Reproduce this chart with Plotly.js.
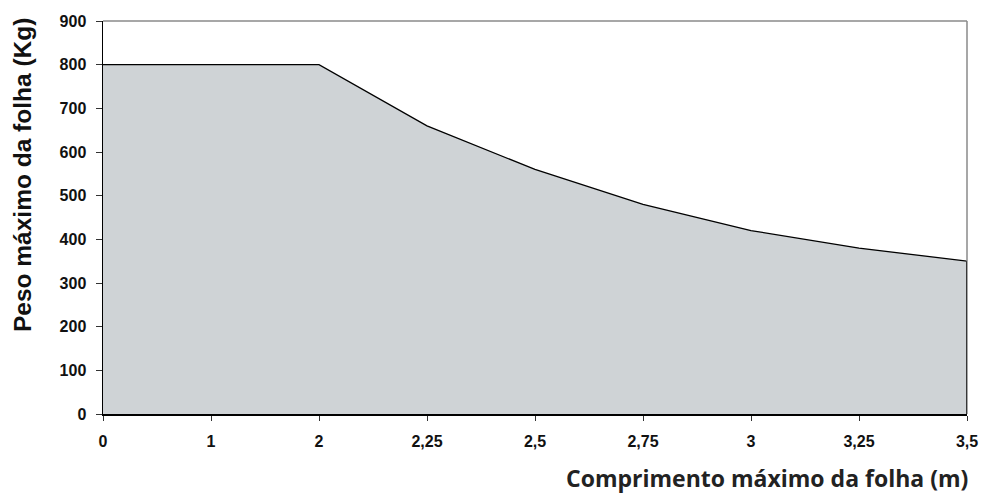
<!DOCTYPE html>
<html>
<head>
<meta charset="utf-8">
<script src="https://cdn.plot.ly/plotly-3.0.1.min.js"></script>
<style>html,body{margin:0;padding:0;background:#fff;}#chart{width:981px;height:493px;}</style>
</head>
<body>
<div id="chart"></div>
<script>
const comprimento = ['0', '1', '2', '2,25', '2,5', '2,75', '3', '3,25', '3,5'];
const peso = [800, 800, 800, 660, 560, 480, 420, 380, 350];
const yTicks = [0, 100, 200, 300, 400, 500, 600, 700, 800, 900];

const lastCat = comprimento[comprimento.length - 1];
const lastVal = peso[peso.length - 1];

const trace = {
  x: comprimento,
  y: peso,
  type: 'scatter',
  mode: 'lines',
  fill: 'tozeroy',
  fillcolor: '#CFD3D6',
  line: {color: '#000000', width: 1.3},
  hoverinfo: 'x+y'
};

const tickFont = {family: '"Liberation Sans", Arial, sans-serif', size: 16, color: '#111111', weight: 'bold'};

const layout = {
  width: 981,
  height: 493,
  margin: {l: 103, r: 14, t: 21, b: 79, pad: 0},
  paper_bgcolor: '#ffffff',
  plot_bgcolor: '#ffffff',
  showlegend: false,
  xaxis: {
    type: 'category',
    range: [0, comprimento.length - 1],
    showgrid: false,
    zeroline: false,
    showline: true,
    linecolor: '#000000',
    linewidth: 1.5,
    ticks: 'outside',
    ticklen: 5,
    tickwidth: 1,
    tickcolor: '#333333',
    tickfont: tickFont,
    ticklabelstandoff: 7
  },
  yaxis: {
    range: [0, 900],
    tickvals: yTicks,
    ticktext: yTicks.map(String),
    showgrid: false,
    zeroline: false,
    showline: true,
    linecolor: '#000000',
    linewidth: 1.5,
    ticks: 'outside',
    ticklen: 6,
    tickwidth: 1,
    tickcolor: '#333333',
    tickfont: tickFont,
    ticklabelstandoff: 6
  },
  shapes: [
    {type: 'line', xref: 'paper', yref: 'paper', x0: 0, x1: 1, y0: 1, y1: 1,
     line: {color: '#8a8a8a', width: 1.5}},
    {type: 'line', xref: 'paper', yref: 'paper', x0: 1, x1: 1, y0: 0, y1: 1,
     line: {color: '#8a8a8a', width: 1.5}},
    {type: 'line', xref: 'x', yref: 'y', x0: lastCat, x1: lastCat, y0: 0, y1: lastVal,
     line: {color: '#000000', width: 1.3}}
  ],
  annotations: [
    {text: 'Peso máximo da folha (Kg)', xref: 'paper', yref: 'paper',
     x: 0, y: 0.608, xanchor: 'center', yanchor: 'middle', xshift: -81,
     textangle: -90, showarrow: false,
     font: {family: '"Liberation Sans", Arial, sans-serif', size: 24.5, color: '#111111', weight: 'bold'}},
    {text: 'Comprimento máximo da folha (m)', xref: 'paper', yref: 'paper',
     x: 1, y: 0, xanchor: 'right', yanchor: 'middle', yshift: -64, xshift: 3,
     showarrow: false,
     font: {family: '"Open Sans", "Noto Sans", sans-serif', size: 23, color: '#222222', weight: 'bold'}}
  ]
};

Plotly.newPlot('chart', [trace], layout, {displayModeBar: false, staticPlot: true});
</script>
</body>
</html>
